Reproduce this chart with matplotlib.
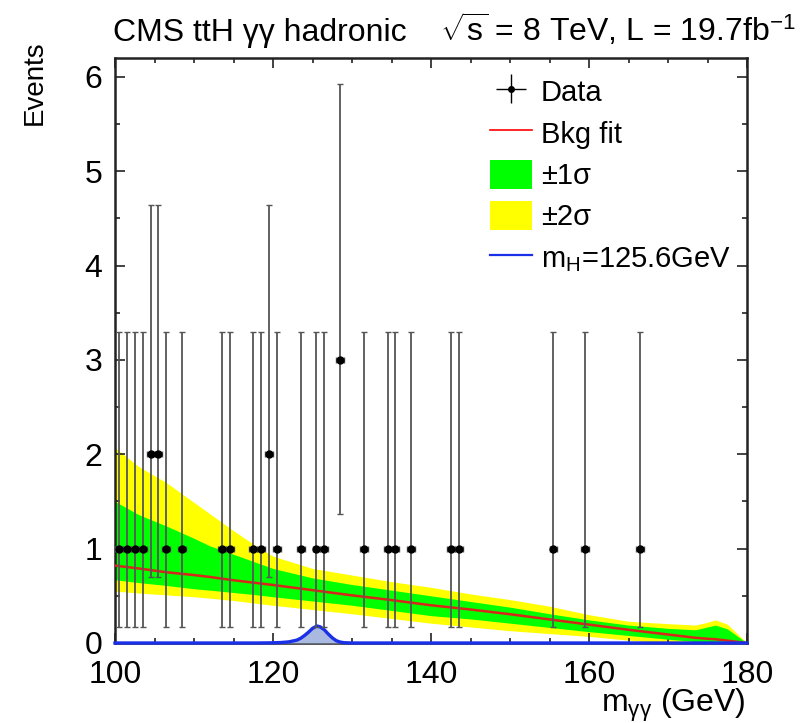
import matplotlib
matplotlib.use("Agg")
import matplotlib.pyplot as plt
from matplotlib.ticker import MultipleLocator
from matplotlib.patches import Patch
from matplotlib.lines import Line2D

plt.rcParams["font.family"] = ["Liberation Sans", "DejaVu Sans"]
plt.rcParams["mathtext.fontset"] = "custom"
plt.rcParams["mathtext.rm"] = "Liberation Sans"
plt.rcParams["mathtext.it"] = "Liberation Sans:italic"
plt.rcParams["mathtext.sf"] = "Liberation Sans"

# diphoton candidates, 1 GeV bins (empty bins not drawn)
mass = [100.5, 101.5, 102.5, 103.5, 104.5, 105.5, 106.5, 108.5, 113.5, 114.5,
        117.5, 118.5, 119.5, 120.5, 123.5, 125.5, 126.5, 128.5, 131.5, 134.5,
        135.5, 137.5, 142.5, 143.5, 155.5, 159.5, 166.5]
events = [1, 1, 1, 1, 2, 2, 1, 1, 1, 1,
          1, 1, 2, 1, 1, 1, 1, 3, 1, 1,
          1, 1, 1, 1, 1, 1, 1]
# asymmetric Poisson interval edges for each count
poisson_lo = {1: 0.17, 2: 0.70, 3: 1.37}
poisson_hi = {1: 3.30, 2: 4.64, 3: 5.92}

# background fit and its uncertainty bands
fit_x = [100, 103, 106.5, 110, 112, 115, 118, 120, 125, 130, 135, 140, 145,
         150, 155, 160, 165, 170, 173.5, 175, 176, 177.5, 180]
fit_y = [0.82, 0.79, 0.75, 0.72, 0.70, 0.665, 0.635, 0.615, 0.56, 0.505, 0.455,
         0.40, 0.355, 0.305, 0.25, 0.195, 0.14, 0.09, 0.055, 0.045, 0.04, 0.025, 0.0]
sig1_hi = [1.50, 1.36, 1.24, 1.11, 1.03, 0.94, 0.85, 0.79, 0.69, 0.62, 0.56,
           0.50, 0.44, 0.38, 0.31, 0.245, 0.19, 0.155, 0.14, 0.17, 0.19, 0.15, 0.0]
sig1_lo = [0.67, 0.64, 0.61, 0.575, 0.56, 0.535, 0.51, 0.49, 0.445, 0.40, 0.345,
           0.29, 0.255, 0.21, 0.165, 0.12, 0.08, 0.04, 0.015, 0.01, 0.005, 0.0, 0.0]
sig2_hi = [2.07, 1.87, 1.70, 1.49, 1.37, 1.19, 1.02, 0.92, 0.79, 0.72, 0.65,
           0.59, 0.52, 0.46, 0.39, 0.30, 0.23, 0.205, 0.19, 0.22, 0.245, 0.20, 0.0]
sig2_lo = [0.55, 0.53, 0.51, 0.49, 0.475, 0.45, 0.42, 0.40, 0.355, 0.31, 0.26,
           0.21, 0.17, 0.13, 0.10, 0.07, 0.03, 0.0, 0.0, 0.0, 0.0, 0.0, 0.0]

# expected ttH signal shape for mH = 125.6 GeV
sig_x = [100, 118, 120, 121, 122, 123, 123.5, 124, 124.5, 125, 125.5, 125.6,
         126, 126.5, 127, 127.5, 128, 128.5, 129, 130, 180]
sig_y = [0, 0, 0.002, 0.005, 0.012, 0.03, 0.05, 0.08, 0.115, 0.155, 0.178, 0.18,
         0.17, 0.14, 0.095, 0.055, 0.025, 0.01, 0.003, 0, 0]

yerr = [[n - poisson_lo[n] for n in events], [poisson_hi[n] - n for n in events]]

fig = plt.figure(figsize=(8.1, 7.23), dpi=100)
ax = fig.add_axes([115 / 810, 80 / 723, 632 / 810, 585 / 723])

ax.fill_between(fit_x, sig2_lo, sig2_hi, color="#ffff00", lw=0, zorder=1)
ax.fill_between(fit_x, sig1_lo, sig1_hi, color="#00ff00", lw=0, zorder=2)
ax.plot(fit_x, fit_y, color="#d8261a", lw=1.8, zorder=3)

ax.fill_between(sig_x, 0, sig_y, color="#a9b9e0", lw=0, zorder=4)
ax.plot(sig_x, sig_y, color="#1a2fe8", lw=2.4, zorder=5, clip_on=False)

ax.errorbar(mass, events, yerr=yerr, xerr=0.5, fmt="o", color="black",
            ecolor="#555555", elinewidth=1.3, ms=5, capsize=2, capthick=1,
            zorder=6)

ax.set_xlim(100, 180)
ax.set_ylim(0, 6.2)
ax.xaxis.set_major_locator(MultipleLocator(20))
ax.xaxis.set_minor_locator(MultipleLocator(5))
ax.yaxis.set_major_locator(MultipleLocator(1))
ax.yaxis.set_minor_locator(MultipleLocator(0.5))
ax.tick_params(which="both", direction="in", top=True, right=True,
               labelsize=23, width=1.2, color="#222222")
ax.tick_params(which="major", length=7)
ax.tick_params(which="minor", length=3.5)
ax.tick_params(axis="y", pad=9)
ax.tick_params(axis="x", pad=12)
for s in ax.spines.values():
    s.set_linewidth(1.8)
    s.set_color("#222222")

ax.text(0.997, -0.118, r"m$_\mathrm{γγ}$ (GeV)", transform=ax.transAxes,
        ha="right", va="baseline", fontsize=23)
fig.text(35 / 810, 1 - 40 / 723, "Events", rotation=90, ha="center",
         va="top", fontsize=20)

fig.text(113 / 810, 1 - 41 / 723, "CMS ttH γγ hadronic", fontsize=23,
         va="baseline")
fig.text(440 / 810, 1 - 41 / 723, r"$\sqrt{\mathrm{s}}$ = 8 TeV, L = 19.7fb$^{-1}$",
         fontsize=23, va="baseline")

data_handle = ax.errorbar([], [], xerr=[], yerr=[], fmt="o", color="black",
                          ms=4, elinewidth=1)
handles = [data_handle,
           Line2D([], [], color="red", lw=1.2),
           Patch(facecolor="#00ff00", edgecolor="none"),
           Patch(facecolor="#ffff00", edgecolor="none"),
           Line2D([], [], color="#1a2fe8", lw=1.6)]
labels = ["Data", "Bkg fit", "±1σ", "±2σ", r"m$_\mathrm{H}$=125.6GeV"]
ax.legend(handles, labels, loc="upper left", bbox_to_anchor=(0.593, 0.968),
          frameon=False, fontsize=21, borderpad=0, borderaxespad=0,
          handlelength=1.45, handletextpad=0.3, handleheight=1.15,
          labelspacing=0.38)

fig.savefig("out.png", dpi=100)
